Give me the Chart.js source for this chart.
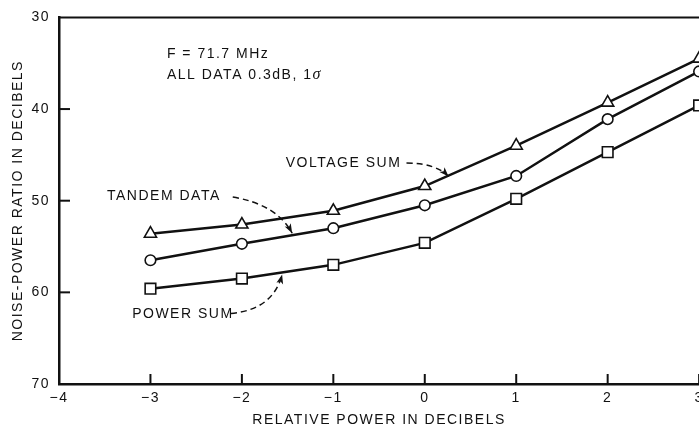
<!DOCTYPE html>
<html>
<head>
<meta charset="utf-8">
<script src="https://cdn.jsdelivr.net/npm/chart.js@4"></script>
<style>
  html, body { margin: 0; padding: 0; background: #fff; overflow: hidden; }
  #wrap { width: 709px; height: 432px; }
</style>
</head>
<body>
<!-- the original figure is cropped at x = 3, so the canvas runs a bit past the window -->
<div id="wrap"><canvas id="myChart" width="709" height="432"></canvas></div>
<script>
// data
var xValues = [-3, -2, -1, 0, 1, 2, 3];
var voltageSum = [53.6, 52.6, 51.1, 48.4, 44.0, 39.3, 34.5];
var tandemData = [56.5, 54.7, 53.0, 50.5, 47.3, 41.1, 35.9];
var powerSum = [59.6, 58.5, 57.0, 54.6, 49.8, 44.7, 39.6];
var xTicks = [-4, -3, -2, -1, 0, 1, 2, 3];
var yTicks = [30, 40, 50, 60, 70];

var ink = "#111";
var font = "'Liberation Sans', Arial, sans-serif";

function pts(ys) {
  return xValues.map(function (x, i) { return { x: x, y: ys[i] }; });
}

// labels with dashed arrows, positioned in data units
var notes = [
  { text: "VOLTAGE SUM", x: -1.52, y: 45.9, from: [-0.2, 45.9], ctrl: [0.12, 45.9], to: [0.26, 47.35] },
  { text: "TANDEM DATA", x: -3.475, y: 49.5, from: [-2.1, 49.6], ctrl: [-1.62, 50.4], to: [-1.45, 53.55] },
  { text: "POWER SUM", x: -3.2, y: 62.4, from: [-2.12, 62.3], ctrl: [-1.66, 61.9], to: [-1.56, 58.05] }
];

var decor = {
  id: "decor",
  afterDraw: function (chart) {
    var ctx = chart.ctx, a = chart.chartArea;
    var xs = chart.scales.x, ys = chart.scales.y;
    ctx.save();
    ctx.strokeStyle = ink;
    ctx.fillStyle = ink;
    // top frame
    ctx.lineWidth = 2;
    ctx.beginPath();
    ctx.moveTo(a.left, a.top);
    ctx.lineTo(a.right + 2, a.top);
    ctx.stroke();
    // inward ticks
    xTicks.slice(1).forEach(function (v) {
      var px = xs.getPixelForValue(v);
      ctx.beginPath();
      ctx.moveTo(px, a.bottom);
      ctx.lineTo(px, a.bottom - 10);
      ctx.stroke();
    });
    yTicks.slice(1, -1).forEach(function (v) {
      var py = ys.getPixelForValue(v);
      ctx.beginPath();
      ctx.moveTo(a.left, py);
      ctx.lineTo(a.left + 11, py);
      ctx.stroke();
    });
    // text block
    ctx.letterSpacing = "1.5px";
    ctx.font = "14px " + font;
    ctx.textBaseline = "middle";
    ctx.textAlign = "left";
    var tx = xs.getPixelForValue(-2.82);
    ctx.fillText("F = 71.7 MHz", tx, ys.getPixelForValue(34.0));
    ctx.fillText("ALL DATA 0.3dB, 1", tx, ys.getPixelForValue(36.3));
    var w = ctx.measureText("ALL DATA 0.3dB, 1").width;
    ctx.font = "italic 16px 'Liberation Serif', serif";
    ctx.fillText("\u03c3", tx + w, ys.getPixelForValue(36.3));
    ctx.font = "14px " + font;
    notes.forEach(function (n) {
      ctx.fillText(n.text, xs.getPixelForValue(n.x), ys.getPixelForValue(n.y));
      var x0 = xs.getPixelForValue(n.from[0]), y0 = ys.getPixelForValue(n.from[1]);
      var cx = xs.getPixelForValue(n.ctrl[0]), cy = ys.getPixelForValue(n.ctrl[1]);
      var x1 = xs.getPixelForValue(n.to[0]), y1 = ys.getPixelForValue(n.to[1]);
      ctx.lineWidth = 1.5;
      ctx.setLineDash([6, 4]);
      ctx.beginPath();
      ctx.moveTo(x0, y0);
      ctx.quadraticCurveTo(cx, cy, x1, y1);
      ctx.stroke();
      ctx.setLineDash([]);
      var ang = Math.atan2(y1 - cy, x1 - cx);
      ctx.beginPath();
      ctx.moveTo(x1, y1);
      ctx.lineTo(x1 - 10 * Math.cos(ang - 0.35), y1 - 10 * Math.sin(ang - 0.35));
      ctx.lineTo(x1 - 7 * Math.cos(ang), y1 - 7 * Math.sin(ang));
      ctx.lineTo(x1 - 10 * Math.cos(ang + 0.35), y1 - 10 * Math.sin(ang + 0.35));
      ctx.closePath();
      ctx.fill();
    });
    ctx.restore();
  }
};

function series(label, ys, style, r) {
  return {
    label: label,
    data: pts(ys),
    borderColor: ink,
    borderWidth: 2.5,
    pointStyle: style,
    pointRadius: r,
    pointBackgroundColor: "#fff",
    pointBorderColor: ink,
    pointBorderWidth: 1.6,
    tension: 0
  };
}

new Chart("myChart", {
  type: "line",
  data: {
    datasets: [
      series("Voltage sum", voltageSum, "triangle", 7),
      series("Tandem data", tandemData, "circle", 5.3),
      series("Power sum", powerSum, "rect", 7.5)
    ]
  },
  options: {
    responsive: false,
    animation: false,
    layout: { padding: { top: 15, right: 0, left: 0, bottom: 0 } },
    plugins: { legend: { display: false }, tooltip: { enabled: false } },
    scales: {
      x: {
        type: "linear",
        min: -4,
        max: 3,
        afterFit: function (s) { s.height = 48; },
        afterBuildTicks: function (s) { s.ticks = xTicks.map(function (v) { return { value: v }; }); },
        grid: { display: false, drawTicks: false },
        border: { display: true, color: ink, width: 2.5 },
        ticks: {
          padding: 6,
          color: ink,
          font: { family: font, size: 14 },
          callback: function (v) { return v < 0 ? "\u2212" + Math.abs(v) : String(v); }
        },
        title: {
          display: true,
          text: "RELATIVE POWER IN DECIBELS",
          color: ink,
          font: { family: font, size: 14 },
          padding: { top: 0, bottom: 3.6 }
        }
      },
      y: {
        type: "linear",
        reverse: true,
        min: 30,
        max: 70,
        afterFit: function (s) { s.width = 59; },
        afterBuildTicks: function (s) { s.ticks = yTicks.map(function (v) { return { value: v }; }); },
        grid: { display: false, drawTicks: false },
        border: { display: true, color: ink, width: 2.5 },
        ticks: {
          padding: 9,
          color: ink,
          font: { family: font, size: 14 }
        },
        title: {
          display: true,
          text: "NOISE-POWER RATIO IN DECIBELS",
          color: ink,
          font: { family: font, size: 14 },
          padding: { top: 9.6, bottom: 0 }
        }
      }
    }
  },
  plugins: [{
    id: "spacing",
    beforeDraw: function (chart) { chart.ctx.letterSpacing = "1.5px"; }
  }, decor]
});
</script>
</body>
</html>
